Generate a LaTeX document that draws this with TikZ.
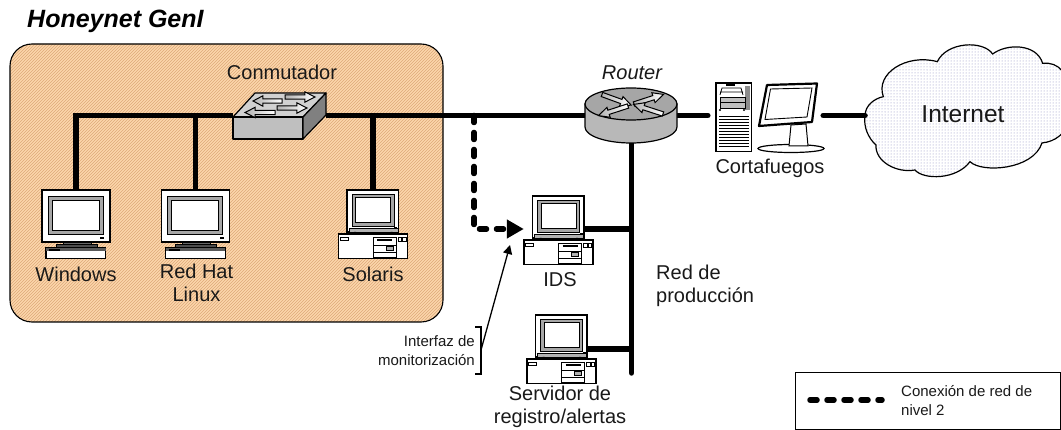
\documentclass[tikz,border=0pt]{standalone}
\usepackage{fontspec}
\setmainfont{Liberation Sans}
\usetikzlibrary{arrows.meta,patterns,calc}
\definecolor{hatchbg}{HTML}{FCD6AC}
\definecolor{hatchfg}{HTML}{DDA878}
\definecolor{clouddot}{HTML}{8A8AC0}
\tikzset{
  wire/.style={line width=5.5pt,black},
  dashwire/.style={line width=5.5pt,black,line cap=round,dash pattern=on 7pt off 10pt},
  thin line/.style={line width=1.3pt,black},
  lbl/.style={font=\fontsize{20}{23}\selectfont,inner sep=0pt,align=center,text=black!90},
  small lbl/.style={font=\fontsize{15}{19}\selectfont,inner sep=0pt,text=black!90},
  anchorbox/.style={inner sep=0pt,minimum width=#1},
  body/.style={draw=black,line width=1.2pt,fill=white},
  netarrow/.style={draw=black,line width=1pt,left color=gray!60,right color=white},
  cloud outline/.style={insert path={(195,258) .. controls (195,225) and (225,205) .. (250,200)
        .. controls (225,130) and (320,70) .. (412,95)
        .. controls (440,35) and (550,30) .. (578,72)
        .. controls (620,40) and (710,40) .. (728,100)
        .. controls (775,95) and (810,130) .. (795,190)
        .. controls (830,240) and (810,330) .. (726,339)
        .. controls (700,420) and (545,430) .. (510,395)
        .. controls (470,450) and (370,450) .. (345,420)
        .. controls (290,430) and (225,395) .. (228,345)
        .. controls (205,325) and (190,290) .. (195,258) -- cycle}},
}
% net arrow: x y rotation length
\newcommand\netarrowat[4]{%
  \path[netarrow,shift={(#1,#2)},rotate=#3,xscale=#4]
    (0,-2.2)--(.66,-2.2)--(.66,-5.2)--(1,0)--(.66,5.2)--(.66,2.2)--(0,2.2)--cycle;}
% big CRT on keyboard: centre x, top y
\newcommand\bigcrt[2]{%
  \begin{scope}[shift={(#1,#2)}]
    \draw[fill=black!60,line width=.8pt] (-13,51.5) rectangle (15,55);
    \draw[fill=black!70,line width=.8pt] (-20,54.5) rectangle (21,58);
    \draw[body] (-34,0) rectangle (34,52);
    \draw[line width=1pt,draw=black,fill=black!35] (-27.7,6.7) rectangle (27.3,45);
    \draw[line width=1pt,draw=black,fill=white] (-23.7,11) rectangle (23.3,40.7);
    \fill[black] (24,47.5) rectangle (28,48.8);
    \draw[body] (-30,57.7) rectangle (29.7,68.7);
    \fill[black!65] (-30,58) rectangle (29.7,61.5);
    \fill[black] (-27,59) rectangle (-16,61);
  \end{scope}}
% small CRT on desktop box: centre x, top y
\newcommand\deskpc[2]{%
  \begin{scope}[shift={(#1,#2)}]
    \draw[body] (-26,0) rectangle (25.5,42);
    \draw[line width=1pt,draw=black,fill=black!35] (-21,4.5) rectangle (21,36.5);
    \draw[line width=1pt,draw=black,fill=white] (-17.5,8) rectangle (17.5,32.5);
    \fill[black] (21,36.8) rectangle (24,38);
    \draw[line width=.8pt,fill=black!30] (-24,38.5) rectangle (25,42);
    \fill[black] (-19,42) rectangle (-17,44.5) (17.5,42) rectangle (19.5,44.5);
    \draw[body] (-34.5,44) rectangle (34.5,68.5);
    \draw[line width=.7pt] (-33,47.5) rectangle (-25,50);
    \draw[line width=.8pt] (0,47) rectangle (23,67);
    \draw[line width=1.2pt] (4,50) -- (19,50);
    \draw[line width=.7pt] (0,55) -- (23,55) (0,62) -- (23,62);
    \draw[line width=.8pt,fill=black!30] (13,56.5) rectangle (20,60.5);
    \draw[line width=.7pt] (25,47) rectangle (28.5,51) (29.5,47) rectangle (33,51);
  \end{scope}}
\begin{document}
\begin{tikzpicture}[x=1pt,y=-1pt]
  \useasboundingbox (0,0) rectangle (1061,430);
  % Honeynet zone
  \path[fill=hatchbg,rounded corners=22pt] (10,44) rectangle (443,322);
  \path[pattern=north east lines,pattern color=hatchfg,rounded corners=22pt] (10,44) rectangle (443,322);
  \draw[line width=1.1pt,rounded corners=22pt] (10,44) rectangle (443,322);
  \node[font=\fontsize{25}{28}\selectfont\bfseries\itshape,inner sep=0pt,anchor=west] (title) at (27,21.5) {Honeynet GenI};
  % cloud
  \begin{scope}
    \clip (850,20) rectangle (1061,190);
    \begin{scope}[shift={(800,30)},x=.3333pt,y=-.3333pt]
      \path[fill=white,cloud outline];
      \path[pattern=dots,pattern color=clouddot,cloud outline];
      \draw[line width=1.2pt,cloud outline];
    \end{scope}
  \end{scope}
  % anchor nodes of the devices
  \node[anchorbox=68pt,minimum height=69pt] (win) at (76,224.5) {};
  \node[anchorbox=68pt,minimum height=69pt] (red) at (195.5,224.5) {};
  \node[anchorbox=69pt,minimum height=69pt] (sol) at (373,224.5) {};
  \node[anchorbox=69pt,minimum height=68pt] (ids) at (558.5,230) {};
  \node[anchorbox=69pt,minimum height=68pt] (srv) at (561.5,349) {};
  \node[anchorbox=93pt,minimum height=46pt] (sw) at (279.5,115.5) {};
  \node[anchorbox=92pt,minimum height=56pt] (rt) at (631,115.5) {};
  \node[anchorbox=115pt,minimum height=69pt] (fw) at (765.5,115.5) {};
  \coordinate (cloudW) at (865,115.5);
  \coordinate (tap) at (474,115.5);
  \coordinate (prodEnd) at (631.5,373);
  \coordinate (idsJoin) at (631.5,229);
  \coordinate (idsPort) at (583,229);
  \coordinate (srvJoin) at (631.5,349);
  \coordinate (srvPort) at (587,349);
  \coordinate (brk) at (481,350);
  \coordinate (monTip) at (510,245);
  % connectors
  \draw[wire] (win.north) |- (sw.west);
  \draw[wire] (red.north) -- (red.north |- sw.west);
  \draw[wire] (sol.north) -- (sol.north |- sw.east);
  \draw[wire] (sw.east) -- (rt.west);
  \draw[wire,line cap=round] (rt.east) -- (fw.west |- rt.east);
  \draw[wire,line cap=round] (fw.east |- cloudW) -- (cloudW);
  \draw[wire,line cap=round] (rt.south -| prodEnd) -- (prodEnd);
  \draw[wire] (idsJoin) -- (idsPort);
  \draw[wire] (srvJoin) -- (srvPort);
  \draw[dashwire,-{Triangle[length=17pt,width=18pt]}] (tap) |- (ids.west |- idsJoin);
  % switch
  \draw[line width=1.2pt,fill=black!18,line join=round] (233,117) -- (255,93) -- (326,93) -- (303,117) -- cycle;
  \draw[line width=1.2pt,fill=black!25,line join=round] (233,117) rectangle (303,139);
  \draw[line width=1.2pt,fill=black!50,line join=round] (303,117) -- (326,93) -- (326,115) -- (303,139) -- cycle;
  \netarrowat{282}{101}{180}{29}
  \netarrowat{285}{97}{0}{30}
  \netarrowat{275}{112.5}{180}{30}
  \netarrowat{277}{108}{0}{30}
  % router
  \draw[line width=1.2pt,fill=black!28] (585,104) -- (585,127) arc[start angle=180,end angle=360,x radius=46,y radius=-16] -- (677,104) -- cycle;
  \draw[line width=1.2pt,fill=black!35] (631,104) ellipse[x radius=46,y radius=16];
  \netarrowat{602}{94.5}{-20}{31}
  \netarrowat{634}{104}{18}{31}
  \netarrowat{628}{106}{198}{31}
  \netarrowat{663}{114}{162}{31}
  % firewall
  \draw[body] (716,83) rectangle (751.5,151.5);
  \fill[black!45] (745,86) rectangle (749.5,110);
  \draw[line width=.8pt] (720,92) -- (743,92) (720,95) -- (722,88) -- (741,88) -- (743,95);
  \fill[black] (726,84.5) rectangle (735,86);
  \draw[line width=.8pt,fill=black!25] (720,97) rectangle (745,108);
  \draw[line width=.8pt] (720,102) -- (745,102);
  \fill[black] (720,110) circle (1.2) (744,110) circle (1.2);
  \foreach \yy in {117,120,...,148} {\draw[line width=1pt] (719,\yy) -- (749,\yy);}
  \draw[line width=1.2pt,fill=white] (791,148.5) ellipse[x radius=33,y radius=4];
  \draw[line width=1pt,fill=white] (791,125) -- (806,124) -- (808,146) -- (789,146) -- cycle;
  \draw[line width=2.2pt,fill=white,line join=round] (767,85) -- (817,83.5) -- (812,122) -- (759,126) -- cycle;
  \draw[line width=.9pt] (770.5,89) -- (812,88) -- (807,117) -- (765,119.5) -- cycle;
  % computers
  \bigcrt{76}{190}
  \bigcrt{195.5}{190}
  \deskpc{373}{190}
  \deskpc{558.5}{196}
  \deskpc{561.5}{315}
  % monitor bracket
  \draw[thin line] (475,327) -- (481,327) -- (481,374) -- (475,374);
  \draw[thin line,-{Triangle[length=9pt,width=9pt]}] (brk) -- (monTip);
  % labels
  \node[lbl] (lblsw) at (282,72) {Conmutador};
  \node[lbl,font=\fontsize{20}{23}\selectfont\itshape] (lblrt) at (632,73) {Router};
  \node[lbl] (lblfw) at (770,168.5) {Cortafuegos};
  \node[font=\fontsize{24.5}{28}\selectfont,inner sep=0pt,text=black!90] (inet) at (963,114) {Internet};
  \node[lbl] (lblwin) at (76,274) {Windows};
  \node[lbl,anchor=north] (lblred) at (196.5,264) {Red Hat\\Linux};
  \node[lbl] (lblsol) at (373,274) {Solaris};
  \node[lbl] (lblids) at (560,280) {IDS};
  \node[lbl,anchor=north] (lblsrv) at (560,386) {Servidor de\\registro/alertas};
  \node[lbl,anchor=north west,align=left] (lblprod) at (656,264.5) {Red de\\producción};
  \node[small lbl,anchor=east,align=right] (lblmon) at (475,350.5) {Interfaz de\\monitorización};
  % legend
  \node[draw=black,line width=1.1pt,minimum width=265pt,minimum height=57pt,inner sep=0pt,anchor=north west] (leg) at (795,372) {};
  \coordinate (legA) at (810,400);
  \coordinate (legB) at (882,400);
  \draw[dashwire] (legA) -- (legB);
  \node[small lbl,anchor=west,align=left] (legtxt) at (901,400.5) {Conexión de red de\\nivel 2};
\end{tikzpicture}
\end{document}
